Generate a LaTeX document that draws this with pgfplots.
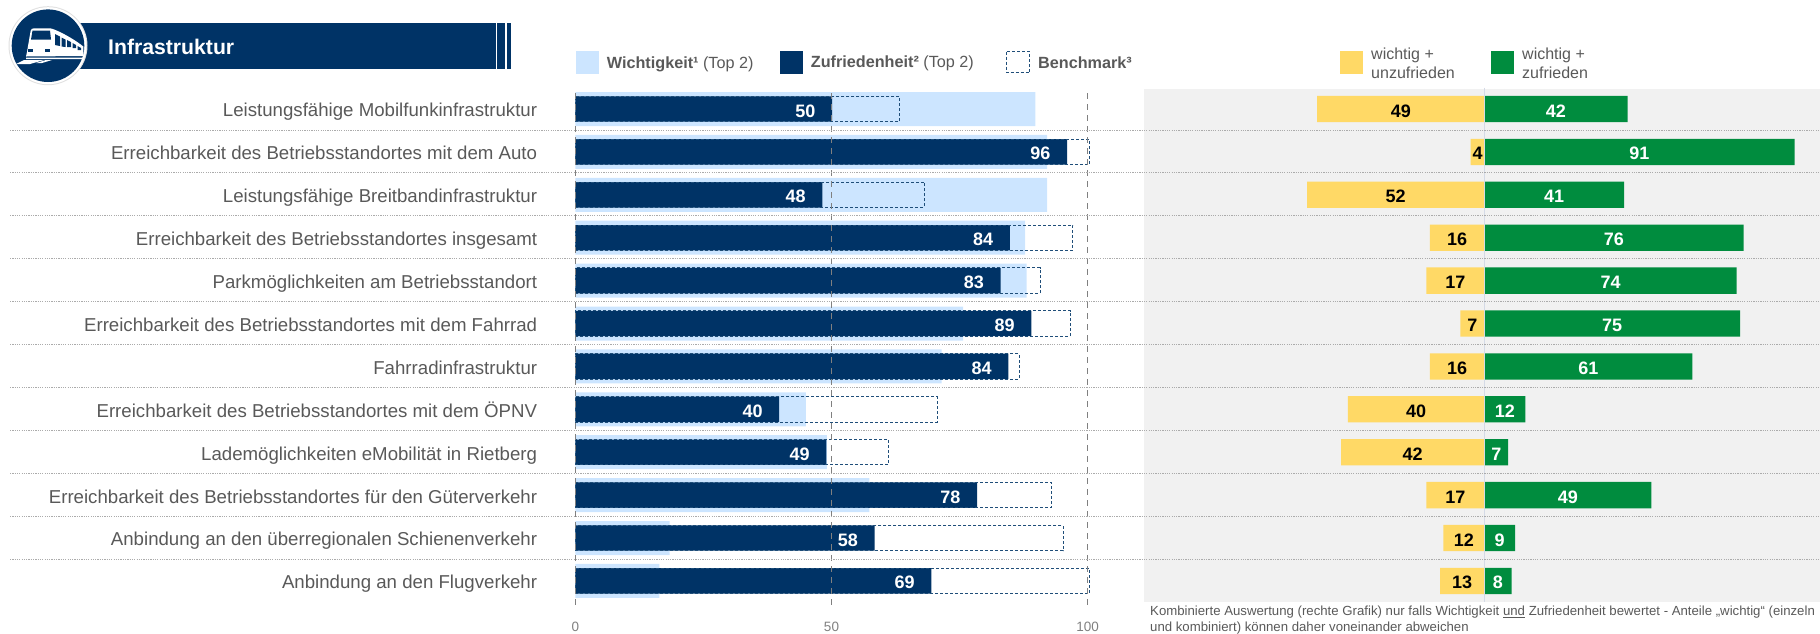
\documentclass[border=0pt]{standalone}
\usepackage{pgfplots}
\pgfplotsset{compat=1.18}
\usepackage{pgfplotstable}
\usepackage{fontspec}
\setmainfont{Liberation Sans}
\definecolor{navy}{HTML}{003366}
\definecolor{lightb}{HTML}{CCE5FF}
\definecolor{bench}{HTML}{1F4E79}
\definecolor{txt}{HTML}{595959}
\definecolor{bgg}{HTML}{F1F1F1}
\definecolor{yel}{HTML}{FFD966}
\definecolor{grn}{HTML}{008C3E}
\definecolor{sep}{HTML}{ABABAB}
\definecolor{grd}{HTML}{808080}
\definecolor{ctr}{HTML}{D4DAE6}
\newcommand\fs[2]{\fontsize{#1}{#2}\selectfont}
\pgfplotstableread{
row wicht zuf bench lab
0 89.8 50.1 63.3 50
1 92.1 96.0 100.3 96
2 92.1 48.2 68.1 48
3 87.8 84.8 97.1 84
4 88.1 83.0 90.7 83
5 75.7 89.0 96.6 89
6 71.5 84.5 86.6 84
7 45.0 39.8 70.6 40
8 49.1 49.0 61.1 49
9 57.4 78.4 92.9 78
10 18.4 58.4 95.2 58
11 16.4 69.5 100.3 69
}\lefttab
\pgfplotstableread{
row y ny g
0 49 -49 42
1 4 -4 91
2 52 -52 41
3 16 -16 76
4 17 -17 74
5 7 -7 75
6 16 -16 61
7 40 -40 12
8 42 -42 7
9 17 -17 49
10 12 -12 9
11 13 -13 8
}\righttab
\begin{document}
\begin{tikzpicture}
\path[use as bounding box] (0pt,-633pt) rectangle (1820pt,0pt);
\clip (0pt,-633pt) rectangle (1820pt,0pt);
\begin{scope}[x=1pt,y=-1pt]
\fill[bgg] (1144,88.5) rectangle (1820,602);
% header
\fill[navy] (60,23) rectangle (495.6,69);
\fill[navy] (497,23) rectangle (505.2,69);
\fill[navy] (506.7,23) rectangle (511,69);
\node[anchor=west,inner sep=0pt,text=white] at (108,46.5) {\fs{21.2}{24}\bfseries Infrastruktur};
\fill[black!12] (48,45.7) circle (39.5);
\fill[white] (48,45.7) circle (38.5);
\fill[navy] (48,45.7) circle (36.3);
% train icon
\fill[white] (26,56.5) -- (27,52) -- (30.6,31) .. controls (31,29) and (32,28.3) .. (34,28.3) -- (50,28.3) .. controls (53,28.3) and (70,36) .. (83.4,46.5) -- (83.4,56) -- cycle;
\fill[navy] (32.5,30.5) -- (50,30.5) -- (51,39.5) -- (31,39.5) -- cycle;
\fill[navy] (55,34) -- (60,36.5) -- (60,46) -- (55,45) -- cycle;
\fill[navy] (61.5,37.5) -- (65.5,39.5) -- (65.5,47) -- (61.5,46.5) -- cycle;
\fill[navy] (67,40) -- (71,42) -- (71,47) -- (67,47) -- cycle;
\fill[navy] (72.5,43) -- (76,45) -- (76,48) -- (72.5,48) -- cycle;
\fill[navy] (77.5,46) -- (81,48) -- (81,50) -- (77.5,50) -- cycle;
\fill[navy] (28,49) rectangle (33,51.5);
\fill[navy] (45,49) rectangle (50,51.5);
\fill[white] (26,57.5) -- (83.5,57.5) -- (83,59) -- (26,59) -- cycle;
\fill[white] (24,60) -- (44,60) -- (30,64) -- (16,64) -- cycle;
\fill[white] (46,60) -- (52,60) -- (42,63) -- (36,63) -- cycle;
% legends
\fill[lightb] (576,51) rectangle (599,73.7);
\fill[navy] (780,51) rectangle (803,73.7);
\draw[bench,line width=1pt,dash pattern=on 3pt off 2pt] (1006.6,51.5) rectangle (1029.6,72.5);
\node[anchor=west,inner sep=0pt,text=txt] at (606.7,64.7) {\fs{16.2}{18}\strut\textbf{Wichtigkeit¹} (Top 2)};
\node[anchor=west,inner sep=0pt,text=txt] at (810.7,63.7) {\fs{16.2}{18}\strut\textbf{Zufriedenheit²} (Top 2)};
\node[anchor=west,inner sep=0pt,text=txt] at (1038,64.7) {\fs{16.2}{18}\strut\textbf{Benchmark³}};
\fill[yel] (1340,51) rectangle (1363,74);
\fill[grn] (1491,51) rectangle (1514,74);
\node[anchor=west,inner sep=0pt,text=txt] at (1371,56.3) {\fs{16}{18}\strut wichtig +};
\node[anchor=west,inner sep=0pt,text=txt] at (1371,75) {\fs{16}{18}\strut unzufrieden};
\node[anchor=west,inner sep=0pt,text=txt] at (1522,56.3) {\fs{16}{18}\strut wichtig +};
\node[anchor=west,inner sep=0pt,text=txt] at (1522,75) {\fs{16}{18}\strut zufrieden};
% footnote
\node[anchor=west,inner sep=0pt,text=txt] at (1150,612.5) {\fs{13.2}{16}\strut Kombinierte Auswertung (rechte Grafik) nur falls Wichtigkeit \underline{und} Zufriedenheit bewertet - Anteile „wichtig“ (einzeln};
\node[anchor=west,inner sep=0pt,text=txt] at (1150,628.5) {\fs{13.2}{16}\strut und kombiniert) können daher voneinander abweichen};
\end{scope}
% left chart
\begin{axis}[
  at={(575.3pt,-87.55pt)},anchor=north west,
  scale only axis,width=512.4pt,height=514.8pt,
  xmin=0,xmax=100,ymin=-0.5,ymax=11.5,y dir=reverse,
  clip=false,
  axis line style={draw=none},tick style={draw=none},
  xtick={0,50,100},ytick={0,...,11},
  /pgf/number format/assume math mode=true,
  xticklabel style={font=\fs{13.5}{16},text=grd,inner sep=0pt,yshift=-19.8pt},
  yticklabel style={font=\fs{18.65}{20},text=txt,inner sep=0pt,anchor=east,xshift=-38pt,yshift=-3.4pt,text height=13pt,text depth=4pt},
  yticklabels={{Leistungsfähige Mobilfunkinfrastruktur},{Erreichbarkeit des Betriebsstandortes mit dem Auto},{Leistungsfähige Breitbandinfrastruktur},{Erreichbarkeit des Betriebsstandortes insgesamt},{Parkmöglichkeiten am Betriebsstandort},{Erreichbarkeit des Betriebsstandortes mit dem Fahrrad},{Fahrradinfrastruktur},{Erreichbarkeit des Betriebsstandortes mit dem ÖPNV},{Lademöglichkeiten eMobilität in Rietberg},{Erreichbarkeit des Betriebsstandortes für den Güterverkehr},{Anbindung an den überregionalen Schienenverkehr},{Anbindung an den Flugverkehr}},
]
\addplot[xbar,bar shift=0pt,bar width=34pt,draw=none,fill=lightb] table[x=wicht,y=row]{\lefttab};
\addplot[xbar,bar shift=0pt,bar width=25.4pt,draw=none,fill=navy,
  point meta=explicit symbolic,nodes near coords,
  nodes near coords style={anchor=east,inner sep=0pt,xshift=-16.5pt,yshift=-1.8pt,text=white,font=\fs{18}{20}\bfseries}]
  table[x=zuf,y=row,meta=lab]{\lefttab};
\addplot[xbar,bar shift=0pt,bar width=25.4pt,draw=bench,fill=none,line width=1pt,dash pattern=on 3pt off 2pt] table[x=bench,y=row]{\lefttab};
\addplot[grd,line width=1pt,dash pattern=on 6pt off 5pt] coordinates {(0,-0.373) (0,11.58)};
\addplot[grd,line width=1pt,dash pattern=on 6pt off 5pt] coordinates {(50,-0.373) (50,11.58)};
\addplot[grd,line width=1pt,dash pattern=on 6pt off 5pt] coordinates {(100,-0.373) (100,11.58)};
\end{axis}
% right chart
\begin{axis}[
  at={(1144pt,-87.55pt)},anchor=north west,
  scale only axis,width=676pt,height=514.8pt,
  xmin=-99.8,xmax=98.44,ymin=-0.5,ymax=11.5,y dir=reverse,
  clip=false,
  axis line style={draw=none},tick style={draw=none},
  xtick=\empty,ytick=\empty,
]
\addplot[xbar,bar shift=0pt,bar width=26.3pt,draw=none,fill=yel,
  point meta=explicit symbolic,
  visualization depends on={rawx \as \myv},
  nodes near coords,
  nodes near coords style={anchor=center,inner sep=0pt,xshift={-1.705pt*\myv},yshift=-1.8pt,text=black,font=\fs{18}{20}\bfseries}]
  table[x=ny,y=row,meta=y]{\righttab};
\addplot[xbar,bar shift=0pt,bar width=26.3pt,draw=none,fill=grn,
  point meta=explicit symbolic,
  visualization depends on={rawx \as \myv},
  nodes near coords,
  nodes near coords style={anchor=center,inner sep=0pt,xshift={-1.705pt*\myv},yshift=-1.8pt,text=white,font=\fs{18}{20}\bfseries}]
  table[x=g,y=row,meta=g]{\righttab};
\addplot[ctr,line width=1.6pt] coordinates {(0,-0.5) (0,11.5)};
\end{axis}
% separators
\begin{scope}[x=1pt,y=-1pt]
\foreach \yy in {130,172.9,215.8,258.7,301.6,344.5,387.4,430.3,473.2,516.1,559}{
  \draw[sep,line width=0.9pt,dash pattern=on 1.2pt off 1.1pt] (10,\yy) -- (1820,\yy);}
\end{scope}
\end{tikzpicture}
\end{document}
